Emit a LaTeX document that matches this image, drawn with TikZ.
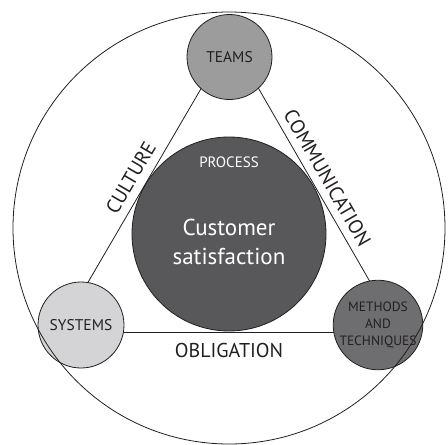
\documentclass[tikz,border=0pt]{standalone}
\usepackage{fontspec}
\setmainfont{PT Sans}
\definecolor{ink}{HTML}{231F20}
\definecolor{teamsgray}{HTML}{9C9C9D}
\definecolor{systemsgray}{HTML}{D4D4D6}
\definecolor{methodsgray}{HTML}{6E6E70}
\definecolor{coregray}{HTML}{58585A}

\begin{document}
\begin{tikzpicture}[x=1pt,y=-1pt,
		ring/.style={circle,draw=ink,line width=0.8pt,inner sep=0pt,text=ink,align=center},
		side/.style={draw=ink,line width=0.8pt},
		sidelabel/.style={font=\fontsize{20}{20}\selectfont,text=ink}]
		\useasboundingbox (0,0) rectangle (448,445);
		%corners of the triangle
		\coordinate (top) at (230,39);
		\coordinate (left) at (59,332);
		\coordinate (right) at (399,332);
		\draw[side] (left) -- node[sloped,above=5pt,sidelabel] (culture) {CULTURE} (top);
		\draw[side] (top) -- node[sloped,above=4pt,sidelabel] (communication) {COMMUNICATION} (right);
		\draw[side] (left) -- node[below=8pt,sidelabel] (obligation) {OBLIGATION} (right);
		%the four circles
		\node[ring,fill=coregray,minimum size=194pt] (process) at (229,234) {};
		\node[text=white,font=\fontsize{15}{15}\selectfont] (processlabel) at (229,162) {PROCESS};
		\node[text=white,align=center,font=\fontsize{23}{29}\selectfont] (satisfaction) at (229,242) {Customer\\satisfaction};
		\node[ring,fill=teamsgray,minimum size=85pt,font=\fontsize{15.5}{15.5}\selectfont] (teams) at (229.5,57) {TEAMS};
		\node[ring,fill=systemsgray,minimum size=86pt,font=\fontsize{15.5}{15.5}\selectfont] (systems) at (81,325) {SYSTEMS};
		\node[ring,fill=methodsgray,minimum size=86pt,font=\fontsize{13.5}{17}\selectfont] (methods) at (378,325) {METHODS\\AND\\TECHNIQUES};
		%\draw[red] (0,0) rectangle (448,445);
		\draw[side] (229,228) circle[radius=216];
	\end{tikzpicture}
\end{document}
